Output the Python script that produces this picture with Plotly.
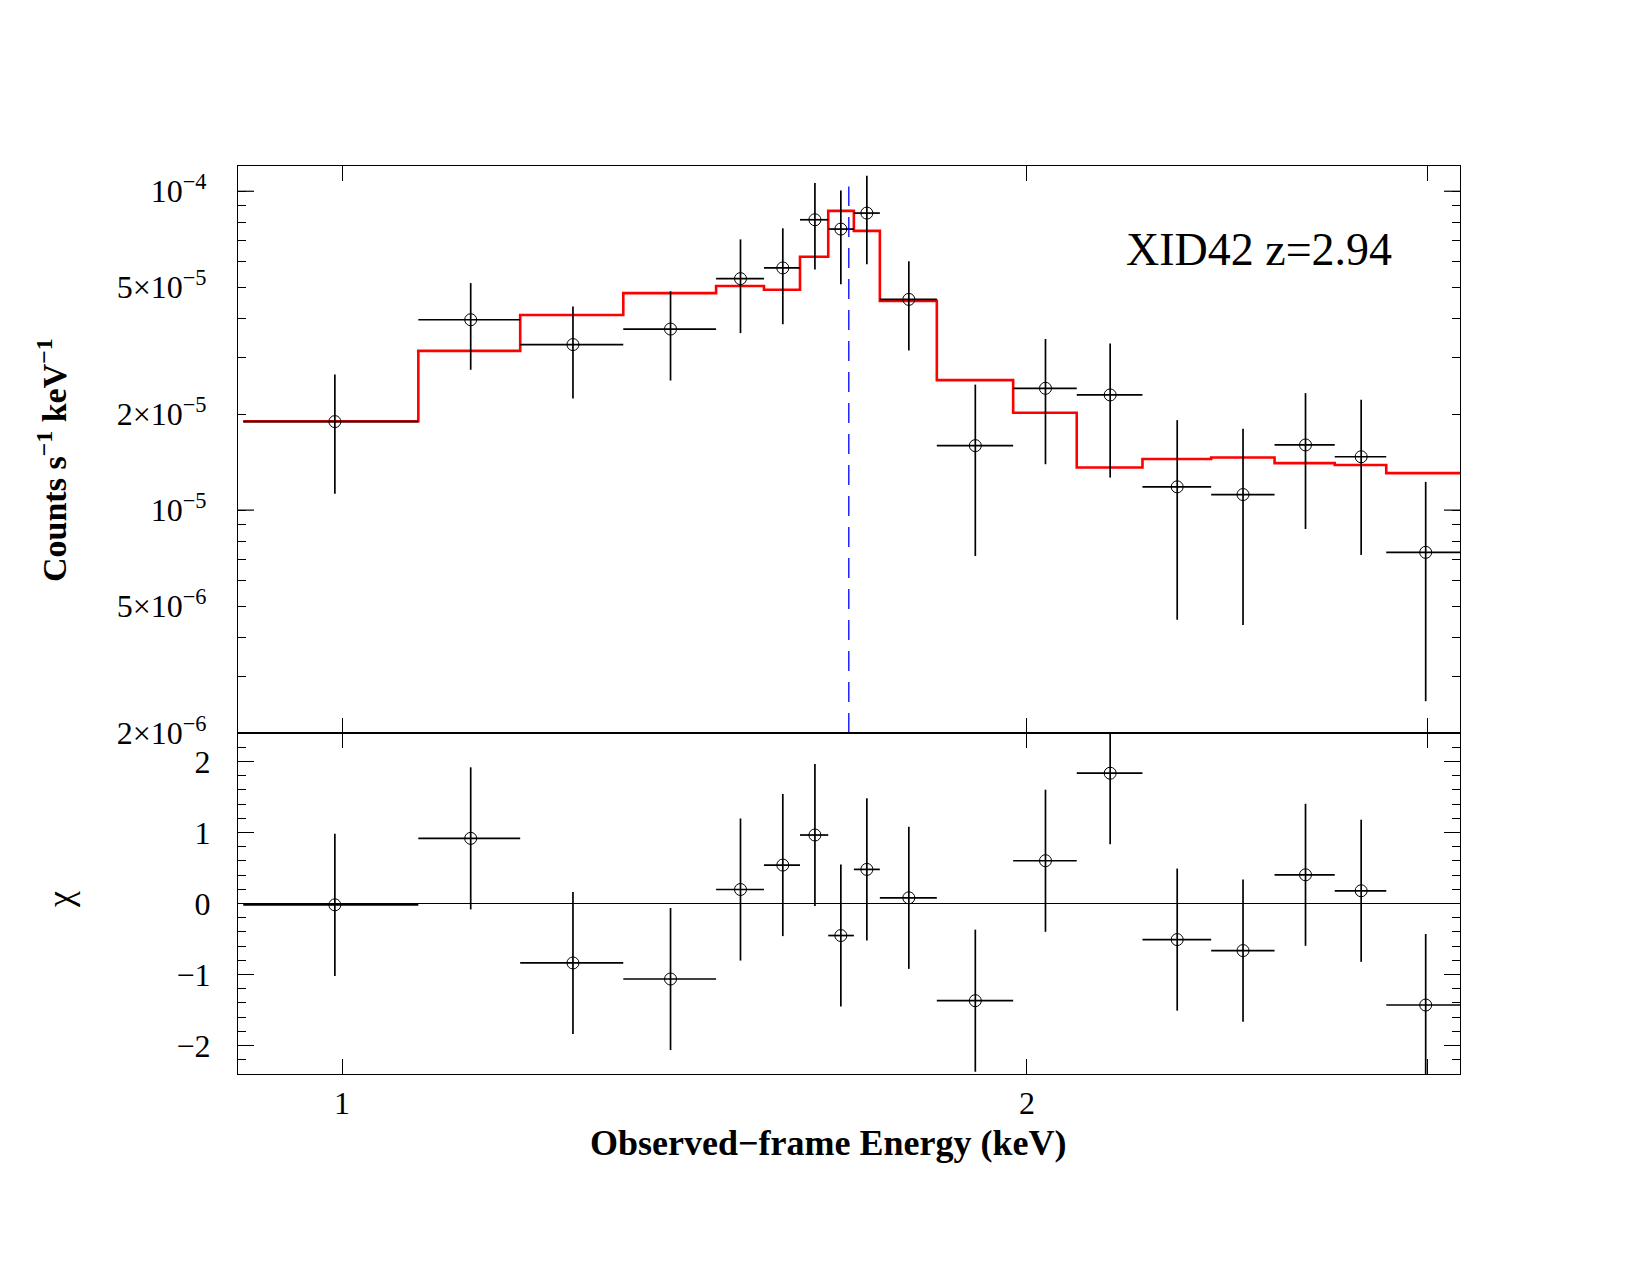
import math
import plotly.graph_objects as go

# ---------------- data ----------------
BIN_EDGES = [0.9048, 1.0802, 1.1975, 1.3292, 1.4601, 1.5326, 1.5895, 1.6356, 1.6786,
             1.7233, 1.8256, 1.9722, 2.1033, 2.2480, 2.4098, 2.5695, 2.7309, 2.8770, 3.111]
ENERGY = [0.9927, 1.1390, 1.2632, 1.3943, 1.4966, 1.5621, 1.6137, 1.6566, 1.7008,
          1.7746, 1.8981, 2.0378, 2.1757, 2.3284, 2.4888, 2.6513, 2.8049, 2.9942]
RATE = [1.895e-5, 3.954e-5, 3.305e-5, 3.697e-5, 5.320e-5, 5.748e-5, 8.140e-5, 7.610e-5, 8.541e-5,
        4.580e-5, 1.593e-5, 2.410e-5, 2.297e-5, 1.183e-5, 1.119e-5, 1.601e-5, 1.470e-5, 7.372e-6]
RATE_HI = [2.661e-5, 5.152e-5, 4.352e-5, 4.858e-5, 7.063e-5, 7.652e-5, 1.061e-4, 1.005e-4, 1.119e-4,
           6.032e-5, 2.475e-5, 3.440e-5, 3.331e-5, 1.915e-5, 1.801e-5, 2.328e-5, 2.219e-5, 1.226e-5]
RATE_LO = [1.125e-5, 2.755e-5, 2.237e-5, 2.549e-5, 3.590e-5, 3.828e-5, 5.687e-5, 5.110e-5, 5.904e-5,
           3.167e-5, 7.178e-6, 1.393e-5, 1.265e-5, 4.531e-6, 4.365e-6, 8.726e-6, 7.236e-6, 2.516e-6]
MODEL = [1.900e-5, 3.158e-5, 4.093e-5, 4.793e-5, 5.043e-5, 4.910e-5, 6.228e-5, 8.678e-5, 7.509e-5,
         4.531e-5, 2.556e-5, 2.020e-5, 1.360e-5, 1.446e-5, 1.462e-5, 1.404e-5, 1.385e-5, 1.306e-5]
CHI = [-0.019, 0.917, -0.837, -1.063, 0.197, 0.541, 0.964, -0.451, 0.480,
       0.080, -1.368, 0.602, 1.834, -0.508, -0.663, 0.404, 0.179, -1.429]
CHI_ERR = [1.0, 1.0, 1.0, 1.0, 1.0, 1.0, 1.0, 1.0, 1.0,
           1.0, 1.0, 1.0, 1.0, 1.0, 1.0, 1.0, 1.0, 1.0]

LINE_ENERGY = 1.670
LINE_SPAN = [2e-6, 1.035e-4]

X_RANGE = [0.9, 3.1]
Y_TOP_RANGE = [2e-6, 1.2e-4]
Y_BOT_RANGE = [-2.4, 2.4]

X_TICKS = [1, 2, 3]
X_TICKTEXT = ["1", "2", ""]
Y_TICKS = [1e-4, 5e-5, 2e-5, 1e-5, 5e-6, 2e-6]
Y_TICKTEXT = ["10<sup>−4</sup>", "5×10<sup>−5</sup>", "2×10<sup>−5</sup>",
              "10<sup>−5</sup>", "5×10<sup>−6</sup>", "2×10<sup>−6</sup>"]
Y_MINOR = [9e-5, 8e-5, 7e-5, 6e-5, 4e-5, 3e-5, 9e-6, 8e-6, 7e-6, 6e-6, 4e-6, 3e-6]
Y_DECADES = [1e-4, 1e-5]
CHI_TICKS = [-2, -1, 0, 1, 2]
CHI_TICKTEXT = ["−2", "−1", "0", "1", "2"]

# ---------------- layout geometry ----------------
W, H = 1650, 1275
L, R, T, B = 238, 190, 166, 201
PW = W - L - R
PH = H - T - B
SPLIT = 341 / PH  # bottom panel fraction

FONT = "Liberation Serif"
BLACK = "black"

xerr_plus = [hi - e for hi, e in zip(BIN_EDGES[1:], ENERGY)]
xerr_minus = [e - lo for lo, e in zip(BIN_EDGES[:-1], ENERGY)]

fig = go.Figure()

# model step (top)
fig.add_trace(go.Scatter(
    x=BIN_EDGES, y=MODEL + [MODEL[-1]], mode="lines", line_shape="hv",
    line=dict(color="#ff0000", width=2.6), xaxis="x", yaxis="y", hoverinfo="skip"))

# data (top)
fig.add_trace(go.Scatter(
    x=ENERGY, y=RATE, mode="markers", xaxis="x", yaxis="y",
    marker=dict(symbol="circle-open", size=12, color=BLACK, line=dict(width=1, color=BLACK)),
    error_x=dict(type="data", symmetric=False, array=xerr_plus, arrayminus=xerr_minus,
                 thickness=1.7, width=0, color=BLACK),
    error_y=dict(type="data", symmetric=False,
                 array=[h - r for h, r in zip(RATE_HI, RATE)],
                 arrayminus=[r - l for r, l in zip(RATE, RATE_LO)],
                 thickness=1.7, width=0, color=BLACK)))

# line marker (blue dashed)
fig.add_trace(go.Scatter(
    x=[LINE_ENERGY, LINE_ENERGY], y=LINE_SPAN, mode="lines", xaxis="x", yaxis="y",
    line=dict(color="#0000ff", width=1.3, dash="20px,11px"), hoverinfo="skip"))

# residuals (bottom)
fig.add_trace(go.Scatter(
    x=ENERGY, y=CHI, mode="markers", xaxis="x2", yaxis="y2",
    marker=dict(symbol="circle-open", size=12, color=BLACK, line=dict(width=1, color=BLACK)),
    error_x=dict(type="data", symmetric=False, array=xerr_plus, arrayminus=xerr_minus,
                 thickness=1.7, width=0, color=BLACK),
    error_y=dict(type="data", array=CHI_ERR, thickness=1.7, width=0, color=BLACK)))

axis_common = dict(showgrid=False, showline=True, linecolor=BLACK, linewidth=1.2,
                   mirror="allticks", ticks="inside", tickcolor=BLACK, tickwidth=1.2,
                   tickfont=dict(family=FONT, size=32, color=BLACK), zeroline=False)

xr = [math.log10(X_RANGE[0]), math.log10(X_RANGE[1])]

fig.update_layout(
    width=W, height=H, margin=dict(l=L, r=R, t=T, b=B),
    paper_bgcolor="white", plot_bgcolor="white", showlegend=False,
    xaxis=dict(axis_common, type="log", range=xr, anchor="y", domain=[0, 1],
               tickmode="array", tickvals=X_TICKS, ticktext=X_TICKTEXT, ticklen=15,
               showticklabels=False),
    xaxis2=dict(axis_common, type="log", range=xr, anchor="y2", domain=[0, 1],
                tickmode="array", tickvals=X_TICKS, ticktext=X_TICKTEXT, ticklen=15,
                ticklabelstandoff=0),
    yaxis=dict(axis_common, type="log", anchor="x", domain=[SPLIT, 1],
               range=[math.log10(Y_TOP_RANGE[0]), math.log10(Y_TOP_RANGE[1])],
               tickmode="array", tickvals=Y_TICKS, ticktext=Y_TICKTEXT, ticklen=8,
               ticklabelstandoff=24,
               minor=dict(tickmode="array", tickvals=Y_MINOR, ticks="inside", ticklen=8,
                          tickcolor=BLACK, tickwidth=1.2, showgrid=False)),
    yaxis2=dict(axis_common, anchor="x2", domain=[0, SPLIT], range=Y_BOT_RANGE,
                tickmode="array", tickvals=CHI_TICKS, ticktext=CHI_TICKTEXT, ticklen=16,
                ticklabelstandoff=20,
                zeroline=True, zerolinecolor=BLACK, zerolinewidth=1.2,
                minor=dict(dtick=0.2, ticks="inside", ticklen=8, tickcolor=BLACK,
                           tickwidth=1.2, showgrid=False)),
)

# long decade ticks on top panel (left and right)
tick_frac = 16 / PW
for d in Y_DECADES:
    fig.add_shape(type="line", xref="paper", yref="y", x0=0, x1=tick_frac, y0=d, y1=d,
                  line=dict(color=BLACK, width=1.2))
    fig.add_shape(type="line", xref="paper", yref="y", x0=1 - tick_frac, x1=1, y0=d, y1=d,
                  line=dict(color=BLACK, width=1.2))


def px_x(p):
    return (p - L) / PW


def px_y(p):
    return (H - B - p) / PH


fig.add_annotation(text="<b>Counts s<sup>−1</sup> keV<sup>−1</sup></b>", textangle=-90,
                   xref="paper", yref="paper", x=px_x(52), y=px_y(460),
                   xanchor="center", yanchor="middle", showarrow=False,
                   font=dict(family=FONT, size=34, color=BLACK))
fig.add_annotation(text="χ", textangle=-90,
                   xref="paper", yref="paper", x=px_x(60), y=px_y(900),
                   xanchor="center", yanchor="middle", showarrow=False,
                   font=dict(family=FONT, size=36, color=BLACK))
fig.add_annotation(text="<b>Observed−frame Energy (keV)</b>",
                   xref="paper", yref="paper", x=px_x(828), y=px_y(1143),
                   xanchor="center", yanchor="middle", showarrow=False,
                   font=dict(family=FONT, size=36, color=BLACK))
fig.add_annotation(text="XID42 z=2.94",
                   xref="paper", yref="paper", x=px_x(1259), y=px_y(249),
                   xanchor="center", yanchor="middle", showarrow=False,
                   font=dict(family=FONT, size=46, color=BLACK))

fig.write_html("out.html")
